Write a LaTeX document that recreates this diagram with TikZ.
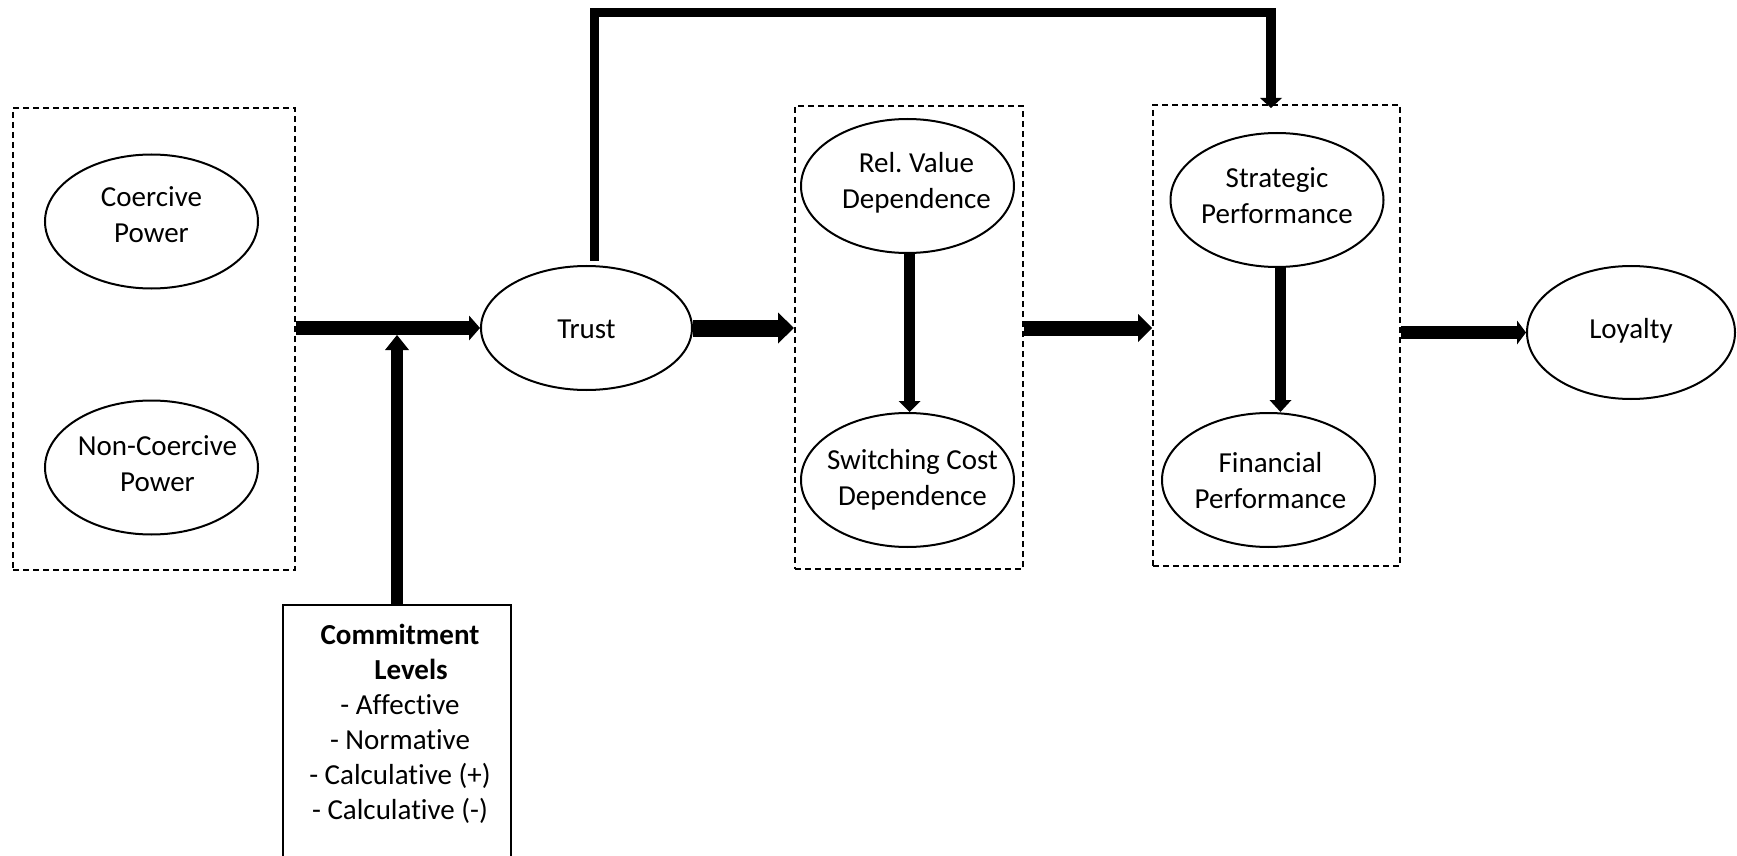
\documentclass[tikz,border=0pt]{standalone}
\usepackage{fontspec}
\setmainfont{Carlito}[Ligatures=CommonOff]
\usetikzlibrary{arrows.meta,shapes.geometric}

\tikzset{
  grp/.style={draw, dash pattern=on 3pt off 2pt, line width=1pt, rectangle, inner sep=0pt},
  oval/.style={draw, ellipse, line width=1pt, inner sep=0pt,
    minimum width=106.5pt, minimum height=67pt},
  lbl/.style={align=center, inner sep=0pt,
    font=\fontsize{14.5pt}{18pt}\selectfont},
  fatarrow/.style n args={3}{line width=#1,
    -{Triangle[width=#2, length=#3, line width=0pt]}},
}

\begin{document}
\frenchspacing
\begin{tikzpicture}[x=0.5pt, y=-0.5pt]
  \clip (0,0) rectangle (1737,856);
  \fill[white] (0,0) rectangle (1737,856);

  % power group
  \node[grp, minimum width=141pt, minimum height=231pt] (grpA) at (154,339) {};
  \node[oval] (coer) at (151.5,221.5) {};
  \node[lbl, yshift=2pt] (coer-t) at (coer.center) {\strut Coercive\\Power\strut};
  \node[oval] (ncoer) at (151.5,467.5) {};
  \node[lbl, xshift=3pt, yshift=0.4pt] (ncoer-t) at (ncoer.center) {\strut Non-Coercive\\Power\strut};

  % trust
  \node[oval, minimum width=105.5pt, minimum height=62pt] (trust) at (586.5,328) {};
  \node[lbl, yshift=-1.5pt] (trust-t) at (trust.center) {\strut Trust};

  % dependence group
  \node[grp, minimum width=114pt, minimum height=231.5pt] (grpB) at (909,337.5) {};
  \node[oval] (rel) at (907.5,186) {};
  \node[lbl, xshift=4.5pt, yshift=1.25pt] (rel-t) at (rel.center) {\strut Rel.\ Value\\Dependence\strut};
  \node[oval] (swc) at (907.5,480) {};
  \node[lbl, xshift=2.5pt] (swc-t) at (swc.center) {\strut Switching Cost\\Dependence\strut};

  % performance group
  \node[grp, minimum width=123.5pt, minimum height=230.5pt] (grpC) at (1276.5,335.5) {};
  \node[oval] (strat) at (1277,200) {};
  \node[lbl, yshift=1pt] (strat-t) at (strat.center) {\strut Strategic\\Performance\strut};
  \node[oval] (fin) at (1268.5,480) {};
  \node[lbl, xshift=1pt, yshift=-1.5pt] (fin-t) at (fin.center) {\strut Financial\\Performance\strut};

  % loyalty
  \node[oval, minimum width=104pt, minimum height=66.5pt] (loy) at (1631,332.5) {};
  \node[lbl, yshift=0.5pt] (loy-t) at (loy.center) {\strut Loyalty};

  % commitment levels
  \node[draw, line width=1pt, rectangle, inner sep=0pt,
        minimum width=114pt, minimum height=140pt] (commit) at (397,745) {};
  \node[lbl, anchor=north, font=\fontsize{14.5pt}{17.5pt}\selectfont] (commit-t)
    at (400,619.5) {\strut\textbf{Commitment}\\\hspace*{11pt}\textbf{Levels}\\- Affective\\- Normative\\- Calculative (+)\\- Calculative (-)};

  % connectors
  \coordinate (cj) at (397,335);
  \coordinate (loopR) at (1271,12.5);
  \coordinate (loopTip) at (1271,108);

  \draw[fatarrow={7pt}{12.5pt}{5.5pt}] (grpA.east |- trust.west) -- (trust.west);
  \draw[fatarrow={6pt}{12pt}{7.5pt}] (commit.north) -- (cj);
  \draw[fatarrow={8.5pt}{15.5pt}{8pt}] (trust.east) -- (trust.east -| grpB.west);
  \draw[fatarrow={7.5pt}{14pt}{7pt}] (grpB.east |- trust.east) -- (grpC.west |- trust.east);
  \draw[fatarrow={6.5pt}{12pt}{4.5pt}] (grpC.east |- loy.west) -- (loy.west);
  \draw[fatarrow={5.5pt}{11pt}{5.5pt}] ([xshift=1pt]rel.south) -- ([xshift=1pt]swc.north);
  \draw[fatarrow={5.5pt}{11pt}{6pt}] ([xshift=1.75pt]strat.south) -- ([xshift=1.75pt]strat.south |- fin.north);
  \draw[fatarrow={4.75pt}{11pt}{5pt}, line join=miter]
    ([xshift=4pt, yshift=2pt]trust.north) |- (loopR) -- (loopTip);
\end{tikzpicture}
\end{document}
